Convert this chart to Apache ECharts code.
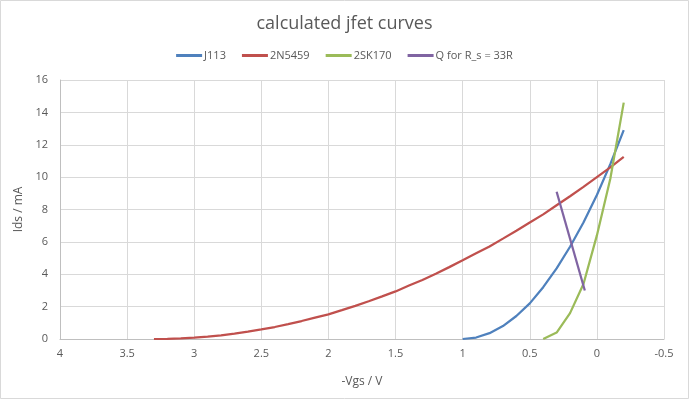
<!DOCTYPE html>
<html>
<head>
<meta charset="utf-8">
<script src="https://cdn.jsdelivr.net/npm/echarts@6/dist/echarts.min.js"></script>
<style>
  html, body { margin: 0; padding: 0; background: #fff; }
  #chart { width: 689px; height: 399px; }
</style>
</head>
<body>
<div id="chart"></div>
<script>
// -Vgs (V) and Ids (mA)
var j113Vgs = [1.0, 0.9, 0.8, 0.7, 0.6, 0.5, 0.4, 0.3, 0.2, 0.1, 0.0, -0.1, -0.2];
var j113Ids = [0, 0.09, 0.36, 0.8, 1.42, 2.2, 3.2, 4.36, 5.7, 7.2, 8.9, 10.8, 12.9];

var n5459Vgs = [3.3, 3.2, 3.1, 3.0, 2.9, 2.8, 2.7, 2.6, 2.5, 2.4, 2.3, 2.2, 2.1, 2.0, 1.9, 1.8,
  1.7, 1.6, 1.5, 1.4, 1.3, 1.2, 1.1, 1.0, 0.9, 0.8, 0.7, 0.6, 0.5, 0.4, 0.3, 0.2, 0.1, 0.0, -0.1, -0.2];
var n5459Ids = [0, 0.01, 0.04, 0.08, 0.15, 0.23, 0.33, 0.45, 0.59, 0.74, 0.92, 1.11, 1.32, 1.52, 1.78, 2.05,
  2.33, 2.63, 2.94, 3.30, 3.65, 4.03, 4.44, 4.86, 5.29, 5.72, 6.20, 6.69, 7.20, 7.70, 8.26, 8.82, 9.40, 10.0, 10.6, 11.25];

var sk170Vgs = [0.4, 0.3, 0.2, 0.1, 0.0, -0.1, -0.2];
var sk170Ids = [0, 0.4, 1.6, 3.4, 6.4, 9.9, 14.6];

var qVgs = [0.3, 0.09];
var qIds = [9.1, 3.0];

var seriesNames = ["J113", "2N5459", "2SK170", "Q for R_s = 33R"];
var color = ["#4f81bd", "#c0504d", "#9bbb59", "#8064a2"];

function pairs(xs, ys) {
  return xs.map(function (x, i) { return [x, ys[i]]; });
}

var myChart = echarts.init(document.getElementById("chart"));

var lineSeries = function (name, data, c) {
  return {
    name: name,
    type: "line",
    data: data,
    showSymbol: false,
    symbol: "none",
    smooth: false,
    lineStyle: { width: 2.25, color: c },
    itemStyle: { color: c }
  };
};

var option = {
  backgroundColor: "#fff",
  animation: false,
  textStyle: { fontFamily: "Open Sans, sans-serif" },
  title: {
    text: "calculated jfet curves",
    left: "center",
    top: 10,
    textStyle: { fontSize: 18, fontWeight: "normal", color: "#595959", fontFamily: "Open Sans, sans-serif" }
  },
  legend: {
    top: 45,
    left: "center",
    icon: "rect",
    itemWidth: 26,
    itemHeight: 3,
    itemGap: 16,
    textStyle: { fontSize: 11, color: "#595959", padding: [0, 0, 0, -3] },
    data: seriesNames
  },
  graphic: [{
    type: "rect",
    shape: { x: 0.5, y: 0.5, width: 688, height: 398 },
    style: { fill: "none", stroke: "#d9d9d9", lineWidth: 1 },
    silent: true
  }],
  grid: { left: 60, right: 25, top: 80, bottom: 60 },
  xAxis: {
    type: "value",
    min: -0.5,
    max: 4,
    interval: 0.5,
    inverse: true,
    name: "-Vgs / V",
    nameLocation: "middle",
    nameGap: 37,
    nameTextStyle: { fontSize: 12, color: "#595959" },
    axisLine: { show: true, lineStyle: { color: "#bfbfbf", width: 1 } },
    axisTick: { show: false },
    axisLabel: { fontSize: 11, color: "#595959", margin: 9 },
    splitLine: { show: true, lineStyle: { color: "#d9d9d9", width: 1 } }
  },
  yAxis: {
    type: "value",
    min: 0,
    max: 16,
    interval: 2,
    name: "Ids / mA",
    nameLocation: "middle",
    nameGap: 27,
    nameTextStyle: { fontSize: 12, color: "#595959" },
    axisLine: { show: true, onZero: false, lineStyle: { color: "#bfbfbf", width: 1 } },
    axisTick: { show: false },
    axisLabel: { fontSize: 11, color: "#595959", margin: 12 },
    splitLine: { show: true, lineStyle: { color: "#d9d9d9", width: 1 } }
  },
  series: [
    lineSeries(seriesNames[0], pairs(j113Vgs, j113Ids), color[0]),
    lineSeries(seriesNames[1], pairs(n5459Vgs, n5459Ids), color[1]),
    lineSeries(seriesNames[2], pairs(sk170Vgs, sk170Ids), color[2]),
    lineSeries(seriesNames[3], pairs(qVgs, qIds), color[3])
  ]
};

myChart.setOption(option, true);
</script>
</body>
</html>
